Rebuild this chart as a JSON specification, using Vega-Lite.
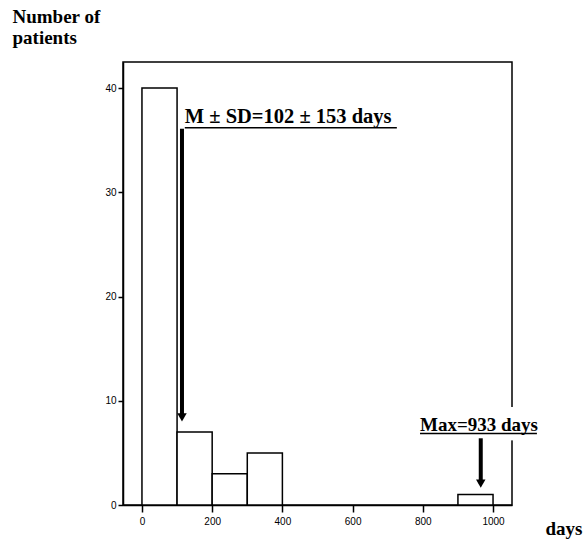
{
  "$schema": "https://vega.github.io/schema/vega-lite/v6.json",
  "autosize": {"type": "none"},
  "padding": {"left": 123, "top": 62, "right": 75, "bottom": 34},
  "width": 389,
  "height": 443,
  "background": "white",
  "config": {
    "view": {"stroke": "black", "strokeWidth": 1.5},
    "axis": {
      "labelFont": "Liberation Sans",
      "labelFontSize": 10,
      "labelColor": "black",
      "tickColor": "black",
      "domainColor": "black",
      "domainWidth": 1.5,
      "tickWidth": 1.5,
      "grid": false,
      "titleFont": "Liberation Serif",
      "titleFontWeight": "bold",
      "titleFontSize": 19,
      "titleColor": "black"
    }
  },
  "datasets": {
    "bins": [
      {"start": 0, "end": 100, "count": 40},
      {"start": 100, "end": 200, "count": 7},
      {"start": 200, "end": 300, "count": 3},
      {"start": 300, "end": 400, "count": 5},
      {"start": 900, "end": 1000, "count": 1}
    ],
    "arrows": [
      {"x": 114, "top": 36.1, "head": 8.4},
      {"x": 965, "top": 6.4, "head": 2.06}
    ],
    "meanLabel": [
      {"x": 122, "y": 36.6, "uend": 726, "uy": 36.2, "text": "M ± SD=102 ± 153 days"}
    ],
    "maxLabel": [
      {"x": 792, "y": 7.1, "uend": 1125, "uy": 6.85, "text": "Max=933 days"}
    ]
  },
  "layer": [
    {
      "data": {"name": "bins"},
      "mark": {"type": "rect", "fill": "white", "stroke": "black", "strokeWidth": 1.5},
      "encoding": {
        "x": {
          "field": "start", "type": "quantitative",
          "scale": {"domain": [-54, 1054], "nice": false, "zero": false},
          "axis": {
            "values": [0, 200, 400, 600, 800, 1000],
            "format": "d",
            "tickSize": 7,
            "labelPadding": 4,
            "title": "days",
            "titleAnchor": "start",
            "titleAlign": "left",
            "titleBaseline": "alphabetic",
            "titleX": 422,
            "titleY": 29
          }
        },
        "x2": {"field": "end"},
        "y": {
          "field": "count", "type": "quantitative",
          "scale": {"domain": [0, 42.5], "nice": false},
          "axis": {
            "values": [0, 10, 20, 30, 40],
            "tickSize": 5,
            "labelPadding": 2,
            "title": ["Number of", "patients"],
            "titleAngle": 0,
            "titleAlign": "left",
            "titleBaseline": "top",
            "titleAnchor": "start",
            "titleLineHeight": 21,
            "titleX": -111,
            "titleY": -55
          }
        },
        "y2": {"datum": 0}
      }
    },
    {
      "data": {"values": [{"x1": 1035, "x2": 1075, "y1": 6.2, "y2": 9.4}]},
      "mark": {"type": "rect", "fill": "white"},
      "encoding": {
        "x": {"field": "x1", "type": "quantitative"},
        "x2": {"field": "x2"},
        "y": {"field": "y1", "type": "quantitative"},
        "y2": {"field": "y2"}
      }
    },
    {
      "data": {"name": "arrows"},
      "mark": {"type": "rule", "strokeWidth": 4, "color": "black"},
      "encoding": {
        "x": {"field": "x", "type": "quantitative"},
        "y": {"field": "top", "type": "quantitative"},
        "y2": {"field": "head"}
      }
    },
    {
      "data": {"name": "arrows"},
      "mark": {"type": "point", "shape": "triangle-down", "filled": true, "color": "black", "opacity": 1, "size": 90},
      "encoding": {
        "x": {"field": "x", "type": "quantitative"},
        "y": {"field": "head", "type": "quantitative"}
      }
    },
    {
      "data": {"name": "meanLabel"},
      "mark": {"type": "text", "font": "Liberation Serif", "fontWeight": "bold", "fontSize": 20.5, "align": "left", "baseline": "alphabetic", "color": "black"},
      "encoding": {
        "x": {"field": "x", "type": "quantitative"},
        "y": {"field": "y", "type": "quantitative"},
        "text": {"field": "text"}
      }
    },
    {
      "data": {"name": "maxLabel"},
      "mark": {"type": "text", "font": "Liberation Serif", "fontWeight": "bold", "fontSize": 19, "align": "left", "baseline": "alphabetic", "color": "black"},
      "encoding": {
        "x": {"field": "x", "type": "quantitative"},
        "y": {"field": "y", "type": "quantitative"},
        "text": {"field": "text"}
      }
    },
    {
      "data": {"name": "meanLabel"},
      "mark": {"type": "rule", "strokeWidth": 1.5, "color": "black"},
      "encoding": {
        "x": {"field": "x", "type": "quantitative"},
        "x2": {"field": "uend"},
        "y": {"field": "uy", "type": "quantitative"}
      }
    },
    {
      "data": {"name": "maxLabel"},
      "mark": {"type": "rule", "strokeWidth": 1.5, "color": "black"},
      "encoding": {
        "x": {"field": "x", "type": "quantitative"},
        "x2": {"field": "uend"},
        "y": {"field": "uy", "type": "quantitative"}
      }
    }
  ]
}
